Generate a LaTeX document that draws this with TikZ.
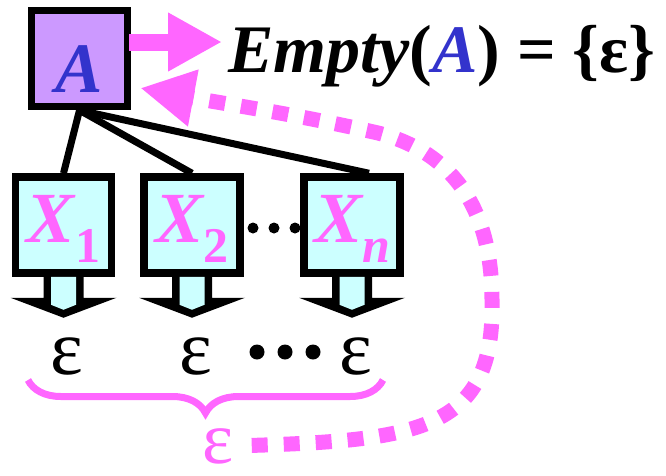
\documentclass[tikz,border=0pt]{standalone}
\usepackage{fontspec}
\setmainfont{Liberation Serif}[BoldFont={Liberation Serif Bold}, ItalicFont={Liberation Serif Italic}, BoldItalicFont={Liberation Serif Bold Italic}]
\usetikzlibrary{arrows.meta,decorations.pathreplacing,calc}
\definecolor{pinkc}{HTML}{FF66FF}
\definecolor{lav}{HTML}{CC99FF}
\definecolor{cyanc}{HTML}{CCFFFF}
\definecolor{bluec}{HTML}{3333CC}
\begin{document}
\begin{tikzpicture}[x=1pt,y=-1pt,
  box/.style={draw=black, line width=7.5pt, minimum size=96pt, inner sep=0pt},
  abox/.style={box, fill=lav, text=bluec, font=\fontsize{71}{71}\selectfont\bfseries\itshape, text height=67pt, text depth=0pt},
  xbox/.style={box, fill=cyanc, text=pinkc, font=\fontsize{72}{72}\selectfont\bfseries\itshape, text height=34pt, text depth=0pt},
  epsb/.style={font=\fontsize{78}{78}\selectfont, inner sep=0pt},
  tree/.style={draw=black, line width=7pt},
  dotc/.style={fill=black}
]
\useasboundingbox (0,0) rectangle (666,475);
\node[abox] (A) at (79.5,58.5) {A};
\node[xbox] (X1) at (63.5,225) {X\raisebox{-20pt}{\fontsize{50}{50}\selectfont\upshape 1}};
\node[xbox] (X2) at (192,225) {X\raisebox{-20pt}{\fontsize{50}{50}\selectfont\upshape 2}};
\node[xbox] (Xn) at (352,225) {X\raisebox{-20pt}{\fontsize{50}{50}\selectfont n}};
% tree lines, then boxes drawn again on top of them
\draw[tree] (A.south) -- (X1.north);
\draw[tree] (A.south) -- (X2.north);
\draw[tree] (A.south) -- ($(Xn.north)+(17,0)$);
\node[abox] at (A) {A};
\node[xbox] at (X1) {X\raisebox{-20pt}{\fontsize{50}{50}\selectfont\upshape 1}};
\node[xbox] at (X2) {X\raisebox{-20pt}{\fontsize{50}{50}\selectfont\upshape 2}};
\node[xbox] at (Xn) {X\raisebox{-20pt}{\fontsize{50}{50}\selectfont n}};
\node[anchor=base west, inner sep=0pt, font=\fontsize{68}{68}\selectfont\bfseries] (E) at (228,72)
  {\itshape Empty\upshape(\textcolor{bluec}{\itshape A}) = \{ε\}};
\node[epsb] (e1) at (67,356) {ε};
\node[epsb] (e2) at (196,356) {ε};
\node[epsb] (en) at (356,356) {ε};
\node[font=\fontsize{74}{74}\selectfont, inner sep=0pt, text=pinkc] (pe) at (218,446) {ε};
\coordinate (tipE) at (222,42);
\coordinate (Ain) at ($(A.east)+(9,29.5)$);
% block arrows under X boxes
\foreach \n in {X1,X2,Xn}{
  \fill[black] ($(\n.south)+(-20,-2)$) -- ($(\n.south)+(20,-2)$) -- ($(\n.south)+(20,21)$) -- ($(\n.south)+(53,21)$)
    -- ($(\n.south)+(0,41)$) -- ($(\n.south)+(-53,21)$) -- ($(\n.south)+(-20,21)$) -- cycle;
  \fill[cyanc] ($(\n.south)+(-12.5,0)$) -- ($(\n.south)+(12.5,0)$) -- ($(\n.south)+(12.5,28)$)
    -- ($(\n.south)+(0,33)$) -- ($(\n.south)+(-12.5,28)$) -- cycle;
}
% dots
\foreach \x in {253,274,295} \fill[dotc] (\x,228) circle (5.5);
\foreach \x in {257,285,313} \fill[dotc] (\x,352) circle (7.5);
% brace
\draw[pinkc, line width=7pt, decorate, decoration={brace, mirror, amplitude=33pt}] (28,380) -- (383,380);
% arrow A -> Empty
\draw[pinkc, line width=17pt, -{Triangle[length=54pt,width=55pt]}] ($(A.east)+(-2,-16.5)$) -- (tipE);
% dotted return arrow
\draw[pinkc, line width=15pt, dash pattern=on 16pt off 16pt, shorten <=18pt, -{Triangle[length=54pt,width=54pt]}]
  (pe.east) .. controls (420,440) and (495,430) .. (492,300)
  .. controls (492,200) and (445,150) .. (378,133)
  .. controls (300,115) and (220,103) .. (Ain);
\end{tikzpicture}
\end{document}
